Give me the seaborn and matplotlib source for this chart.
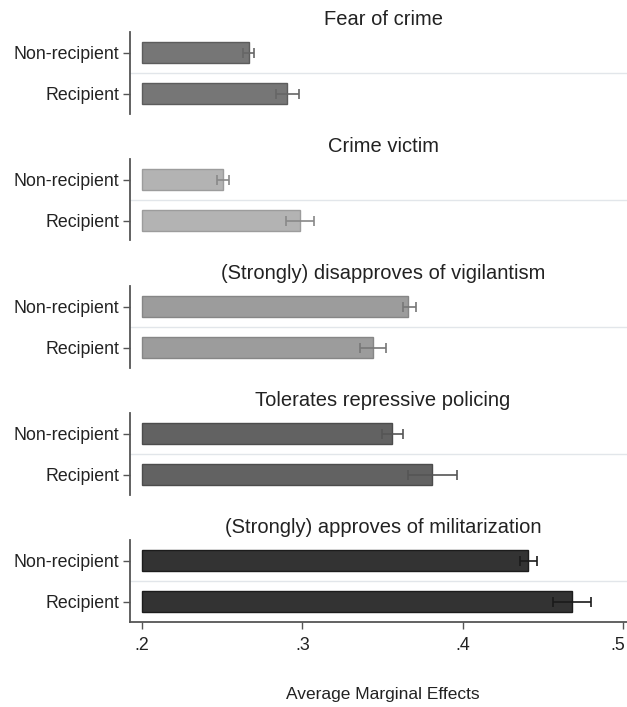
import matplotlib
matplotlib.use("Agg")
import matplotlib.pyplot as plt
import matplotlib.transforms as mtransforms
import numpy as np
import seaborn as sns

# data
groups = ["Non-recipient", "Recipient"]
titles = [
    "Fear of crime",
    "Crime victim",
    "(Strongly) disapproves of vigilantism",
    "Tolerates repressive policing",
    "(Strongly) approves of militarization",
]
fear_mean = [0.2669, 0.2907]
fear_lo = [0.2632, 0.2838]
fear_hi = [0.2699, 0.2980]
victim_mean = [0.2505, 0.2986]
victim_lo = [0.2468, 0.2898]
victim_hi = [0.2543, 0.3073]
vigil_mean = [0.3661, 0.3439]
vigil_lo = [0.3626, 0.3356]
vigil_hi = [0.3707, 0.3522]
repress_mean = [0.3561, 0.3811]
repress_lo = [0.3495, 0.3661]
repress_hi = [0.3626, 0.3965]
milit_mean = [0.4408, 0.4680]
milit_lo = [0.4358, 0.4560]
milit_hi = [0.4462, 0.4800]
x_ticks = [0.2, 0.3, 0.4, 0.5]
x_ticklabels = [".2", ".3", ".4", ".5"]

means = [fear_mean, victim_mean, vigil_mean, repress_mean, milit_mean]
lows = [fear_lo, victim_lo, vigil_lo, repress_lo, milit_lo]
highs = [fear_hi, victim_hi, vigil_hi, repress_hi, milit_hi]
bar_colors = ["#767676", "#b3b3b3", "#9c9c9c", "#626262", "#333333"]
edge_colors = ["#5c5c5c", "#9c9c9c", "#868686", "#4c4c4c", "#1c1c1c"]
err_colors = ["#666666", "#888888", "#777777", "#555555", "#1a1a1a"]
base = 0.2

sns.set_style("white")
plt.rcParams["font.family"] = ["Liberation Sans", "DejaVu Sans"]

W, H = 627, 707
fig = plt.figure(figsize=(W / 100, H / 100), dpi=100)

for i in range(5):
    top = 32 + 127 * i
    ax = fig.add_axes([130 / W, 1 - (top + 81.5) / H, 506 / W, 81.5 / H])
    sns.barplot(x=means[i], y=groups, orient="h", ax=ax, color=bar_colors[i],
                saturation=1, width=0.51, errorbar=None,
                edgecolor=edge_colors[i], linewidth=1)
    # bars start at the .2 baseline like the original
    for p in ax.patches:
        p.set_x(base)
        p.set_width(p.get_width() - base)
    m = np.array(means[i])
    ax.errorbar(m, np.arange(2), xerr=[m - np.array(lows[i]), np.array(highs[i]) - m],
                fmt="none", ecolor=err_colors[i], elinewidth=1.2, capsize=3.5,
                capthick=1.2, zorder=5)
    ax.axhline(0.5, color="#e2e6ea", lw=1, zorder=0)
    ax.set_xlim(0.1925, 0.508)
    ax.set_ylim(1.48, -0.5)
    ax.set_xlabel("")
    ax.set_ylabel("")
    ax.set_title(titles[i], fontsize=14.5, pad=5, color="#222222")
    for s in ["top", "right"]:
        ax.spines[s].set_visible(False)
    ax.spines["left"].set_color("#555555")
    ax.spines["left"].set_linewidth(1.3)
    ax.tick_params(axis="y", left=True, length=5, width=1, color="#555555",
                   labelsize=12.8, pad=3, labelcolor="#222222")
    if i < 4:
        ax.spines["bottom"].set_visible(False)
        ax.set_xticks([])
    else:
        ax.spines["bottom"].set_color("#555555")
        ax.spines["bottom"].set_linewidth(1.3)
        ax.set_xticks(x_ticks)
        ax.set_xticklabels(x_ticklabels)
        ax.tick_params(axis="x", bottom=True, length=5, width=1, color="#555555",
                       labelsize=12.8, pad=6, labelcolor="#222222")
        # keep the last label inside the figure edge
        last = ax.get_xticklabels()[-1]
        last.set_transform(last.get_transform() +
                           mtransforms.ScaledTranslation(-5 / 100, 0, fig.dpi_scale_trans))
        ax.set_xlabel("Average Marginal Effects", fontsize=12.5, labelpad=24,
                      color="#222222")

fig.savefig("out.png", dpi=100, facecolor="white")
